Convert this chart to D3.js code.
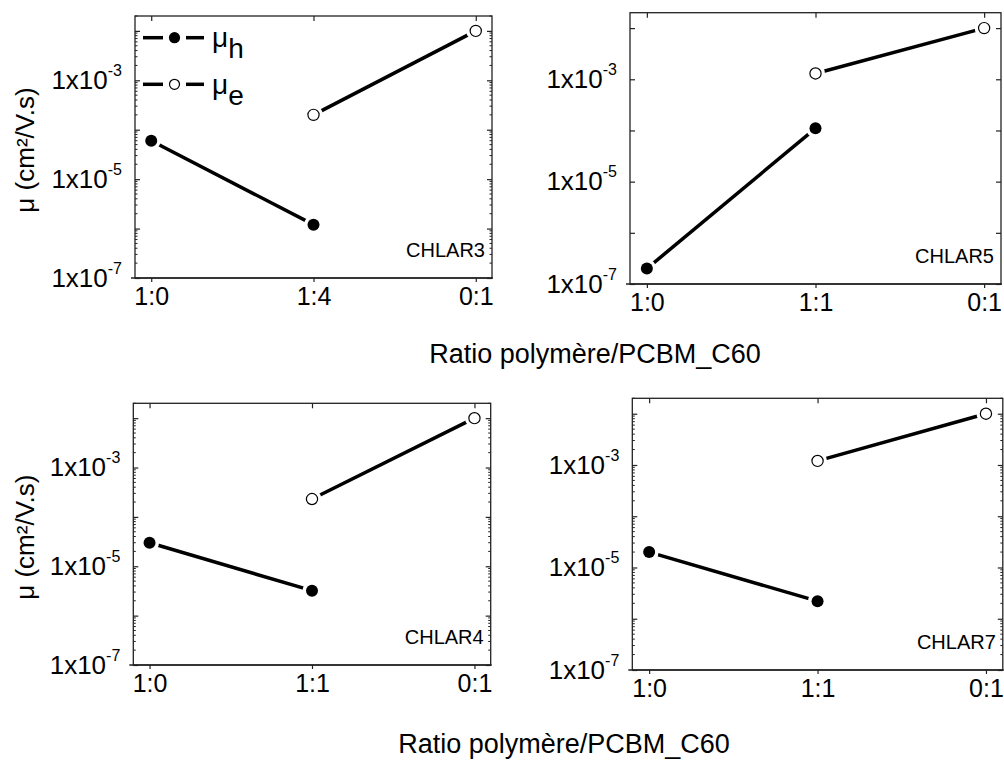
<!DOCTYPE html>
<html><head><meta charset="utf-8">
<script src="https://cdn.jsdelivr.net/npm/d3@7"></script>
<style>
body{margin:0;background:#fff}
svg{display:block}
text{font-family:"Liberation Sans",Arial,sans-serif;fill:#000}
</style>
</head><body>
<svg id="c" width="1004" height="760"></svg>
<script>
// ---- data ----
const panelNames = ["CHLAR3", "CHLAR5", "CHLAR4", "CHLAR7"];
const categoriesP1 = ["1:0", "1:4", "0:1"];
const categoriesOther = ["1:0", "1:1", "0:1"];
const muHIndex = [0, 1];
const muEIndex = [1, 2];
const muH = [[6e-5, 1.2e-6], [2e-7, 1.1e-4], [3e-5, 3.2e-6], [2e-5, 2.2e-6]];
const muE = [[2e-4, 1e-2], [1.3e-3, 1e-2], [2.3e-4, 1e-2], [1.2e-3, 1e-2]];
const majorTicks = [1e-2, 1e-3, 1e-4, 1e-5, 1e-6, 1e-7];
const labelledExponents = [-3, -5, -7];
const yDomain = [1e-7, 2e-2];
const xTitle = "Ratio polymère/PCBM_C60";
const yTitle = "μ (cm²/V.s)";
const legendLabels = [["μ", "h"], ["μ", "e"]];

// ---- layout ----
const layout = [
  {x: 135, y: 16, w: 357, h: 262, minor: true, cats: categoriesP1, yt: true, legend: true},
  {x: 630, y: 12.7, w: 371, h: 271.3, minor: false, cats: categoriesOther, yt: false},
  {x: 133.3, y: 403.3, w: 357.4, h: 261.7, minor: true, cats: categoriesOther, yt: true},
  {x: 632.3, y: 398.3, w: 370.5, h: 271.7, minor: true, cats: categoriesOther, yt: false}
];
const svg = d3.select("#c");
const axisColor = "#222";

const minorTicks = [];
for (let e = -7; e <= -2; e++) for (let m = 2; m <= 9; m++) {
  const v = m * Math.pow(10, e);
  if (v <= yDomain[1]) minorTicks.push(v);
}

layout.forEach((L, pi) => {
  const g = svg.append("g").attr("transform", `translate(${L.x},${L.y})`);
  const x = d3.scaleLinear().domain([-0.1, 2.1]).range([0, L.w]);
  const y = d3.scaleLog().domain(yDomain).range([L.h, 0]);

  // frame
  g.append("rect").attr("width", L.w).attr("height", L.h)
    .attr("fill", "none").attr("stroke", axisColor).attr("stroke-width", 1.3);

  // left axis
  const ya = g.append("g").call(
    d3.axisLeft(y).tickValues(majorTicks).tickSize(-5).tickPadding(13)
      .tickFormat(() => "")
  );
  ya.select(".domain").remove();
  ya.selectAll(".tick line").attr("stroke", axisColor).attr("stroke-width", 1.2);
  ya.selectAll(".tick text").attr("font-size", 26).each(function (d) {
    const e = Math.round(Math.log10(d));
    const t = d3.select(this);
    if (!labelledExponents.includes(e)) return;
    t.append("tspan").text("1x10");
    t.append("tspan").attr("dy", -13).attr("font-size", 16).text(String(e));
  });

  // right axis
  const yr = g.append("g").attr("transform", `translate(${L.w},0)`).call(
    d3.axisRight(y).tickValues(majorTicks).tickSize(-5).tickFormat(() => "")
  );
  yr.select(".domain").remove();
  yr.selectAll(".tick line").attr("stroke", axisColor).attr("stroke-width", 1.2);

  // minor ticks
  if (L.minor) {
    [[0, 1], [L.w, -1]].forEach(([x0, dir]) => {
      g.append("g").selectAll("line").data(minorTicks).join("line")
        .attr("x1", x0).attr("x2", x0 + dir * 2.5)
        .attr("y1", d => y(d)).attr("y2", d => y(d))
        .attr("stroke", axisColor).attr("stroke-width", 1);
    });
  }

  // bottom axis
  const xa = g.append("g").attr("transform", `translate(0,${L.h})`).call(
    d3.axisBottom(x).tickValues([0, 1, 2]).tickSize(4).tickPadding(5)
      .tickFormat(i => L.cats[i])
  );
  xa.select(".domain").attr("d", `M-4,0H${L.w + 1}`).attr("stroke", axisColor).attr("stroke-width", 1.3);
  xa.selectAll(".tick line").attr("stroke", axisColor).attr("stroke-width", 1.2);
  xa.selectAll(".tick text").attr("font-size", 25);

  // top axis
  const xt = g.append("g").call(
    d3.axisTop(x).tickValues([0, 1, 2]).tickSize(-5).tickFormat(() => "")
  );
  xt.select(".domain").remove();
  xt.selectAll(".tick line").attr("stroke", axisColor).attr("stroke-width", 1.2);

  // lines
  const line = d3.line().x(d => x(d[0])).y(d => y(d[1]));
  const hPts = muHIndex.map((xi, k) => [xi, muH[pi][k]]);
  const ePts = muEIndex.map((xi, k) => [xi, muE[pi][k]]);
  [hPts, ePts].forEach(pts => {
    g.append("path").attr("d", line(pts)).attr("fill", "none")
      .attr("stroke", "#000").attr("stroke-width", 3.5);
  });
  // halos + markers
  [...hPts, ...ePts].forEach(p => {
    g.append("circle").attr("cx", x(p[0])).attr("cy", y(p[1])).attr("r", 9.5).attr("fill", "#fff");
  });
  hPts.forEach(p => {
    g.append("circle").attr("cx", x(p[0])).attr("cy", y(p[1])).attr("r", 6).attr("fill", "#000");
  });
  ePts.forEach(p => {
    g.append("circle").attr("cx", x(p[0])).attr("cy", y(p[1])).attr("r", 5.6)
      .attr("fill", "#fff").attr("stroke", "#000").attr("stroke-width", 1.2);
  });

  // panel name
  g.append("text").attr("x", L.w - 7).attr("y", L.h - 21)
    .attr("text-anchor", "end").attr("font-size", 20).text(panelNames[pi]);

  // y title
  if (L.yt) {
    svg.append("text")
      .attr("transform", `translate(34,${L.y + L.h / 2 + 3}) rotate(-90)`)
      .attr("text-anchor", "middle").attr("font-size", 26).text(yTitle);
  }

  // legend
  if (L.legend) {
    const rows = [{dy: 21.7, filled: true}, {dy: 68.3, filled: false}];
    rows.forEach((r, k) => {
      const lg = g.append("g").attr("transform", `translate(0,${r.dy})`);
      lg.append("line").attr("x1", 8).attr("x2", 28).attr("stroke", "#000").attr("stroke-width", 3.5);
      lg.append("line").attr("x1", 51).attr("x2", 69).attr("stroke", "#000").attr("stroke-width", 3.5);
      lg.append("circle").attr("cx", 39.5).attr("cy", 0).attr("r", r.filled ? 5.6 : 5)
        .attr("fill", r.filled ? "#000" : "#fff").attr("stroke", "#000").attr("stroke-width", r.filled ? 0 : 1.2);
      const t = lg.append("text").attr("x", 77).attr("y", 9.5).attr("font-size", 28);
      t.append("tspan").text(legendLabels[k][0]);
      t.append("tspan").attr("dy", 11).text(legendLabels[k][1]);
    });
  }
});

// x titles
svg.append("text").attr("x", 595).attr("y", 363).attr("text-anchor", "middle")
  .attr("font-size", 27).text(xTitle);
svg.append("text").attr("x", 564).attr("y", 753).attr("text-anchor", "middle")
  .attr("font-size", 27).text(xTitle);
</script>
</body></html>
